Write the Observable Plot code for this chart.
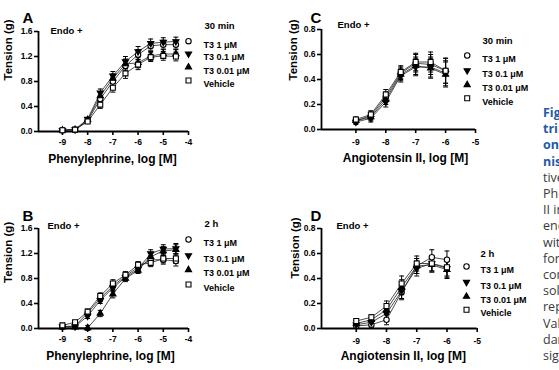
<!DOCTYPE html>
<html>
<head>
<meta charset="utf-8">
<script src="https://cdn.jsdelivr.net/npm/d3@7"></script>
<script src="https://cdn.jsdelivr.net/npm/@observablehq/plot@0.6"></script>
<style>
  body { margin: 0; background: #fff; }
  #fig { position: relative; width: 559px; height: 370px; overflow: hidden; background: #fff; }
  .panel { position: absolute; }
  #caption { position: absolute; left: 543px; top: 105px; font-family: "Open Sans", sans-serif;
             font-size: 12.5px; line-height: 16.2px; white-space: nowrap; color: #3a3a3a; }
  #caption .head { color: #245aa5; font-weight: bold; }
  #caption .body { color: #3a3a3a; font-weight: normal; }
</style>
</head>
<body>
<div id="fig">
  <div id="panelA" class="panel" style="left:0;top:0"></div>
  <div id="panelB" class="panel" style="left:0;top:185px"></div>
  <div id="panelC" class="panel" style="left:280px;top:0"></div>
  <div id="panelD" class="panel" style="left:280px;top:185px"></div>
  <div id="caption">
    <div class="head">Figure 4. Effects of</div>
    <div class="head">triiodothyronine (T3)</div>
    <div class="head">on vascular responses to ago-</div>
    <div class="head">nists. <span class="body">Representa-</span></div>
    <div>tive concentration-response curves to</div>
    <div>Phenylephrine (A, B) and angiotensin</div>
    <div>II in aortic rings with intact</div>
    <div>endothelium (Endo +) incubated</div>
    <div>with T3 (0.01, 0.1 and 1 μM)</div>
    <div>for 30 min (A, C) or 2 h (B, D)</div>
    <div>compared with incubation with</div>
    <div>solvent (Vehicle). Curves</div>
    <div>represent cumulative responses.</div>
    <div>Values are means ± stan-</div>
    <div>dard error of the mean;</div>
    <div>significance was tested by ANOVA.</div>
  </div>
</div>
<script>
// Agonist concentrations, log [M]
const pheLogM = [-9, -8.5, -8, -7.5, -7, -6.5, -6, -5.5, -5, -4.5];
const angLogM = [-9, -8.5, -8, -7.5, -7, -6.5, -6];
const pheTicks = [-9, -8, -7, -6, -5, -4];
const angTicks = [-9, -8, -7, -6, -5];
const pheTensionTicks = [0, 0.4, 0.8, 1.2, 1.6];
const angTensionTicks = [0, 0.2, 0.4, 0.6, 0.8];
const groups = ["T3 1 μM", "T3 0.1 μM", "T3 0.01 μM", "Vehicle"];

// A: phenylephrine, 30 min (tension, g)
const aT3_1   = [0.02, 0.03, 0.17, 0.52, 0.80, 1.05, 1.23, 1.37, 1.39, 1.39];
const aT3_01  = [0.02, 0.03, 0.20, 0.62, 0.89, 1.12, 1.28, 1.41, 1.43, 1.44];
const aT3_001 = [0.02, 0.03, 0.19, 0.57, 0.85, 1.08, 1.10, 1.21, 1.24, 1.24];
const aVeh    = [0.02, 0.03, 0.16, 0.43, 0.70, 0.93, 1.07, 1.19, 1.21, 1.20];
const aSem    = [0.01, 0.01, 0.02, 0.06, 0.07, 0.08, 0.08, 0.07, 0.07, 0.07];

// B: phenylephrine, 2 h
const bT3_1   = [0.03, 0.04, 0.25, 0.48, 0.68, 0.84, 0.98, 1.10, 1.10, 1.08];
const bT3_01  = [0.03, 0.03, 0.20, 0.45, 0.65, 0.82, 0.95, 1.20, 1.27, 1.28];
const bT3_001 = [0.02, 0.02, 0.01, 0.24, 0.55, 0.80, 0.93, 1.15, 1.24, 1.26];
const bVeh    = [0.05, 0.10, 0.27, 0.52, 0.72, 0.86, 1.02, 1.05, 1.12, 1.12];
const bSem    = [0.02, 0.02, 0.04, 0.05, 0.06, 0.05, 0.05, 0.06, 0.07, 0.08];

// C: angiotensin II, 30 min
const cT3_1   = [0.07, 0.11, 0.26, 0.45, 0.53, 0.52, 0.47];
const cT3_01  = [0.06, 0.09, 0.22, 0.43, 0.50, 0.50, 0.45];
const cT3_001 = [0.07, 0.10, 0.24, 0.44, 0.51, 0.49, 0.44];
const cVeh    = [0.08, 0.12, 0.28, 0.46, 0.54, 0.54, 0.47];
const cSem    = [0.02, 0.03, 0.04, 0.05, 0.07, 0.08, 0.10];

// D: angiotensin II, 2 h
const dT3_1   = [0.02, 0.03, 0.07, 0.29, 0.50, 0.57, 0.55];
const dT3_01  = [0.03, 0.05, 0.12, 0.30, 0.48, 0.52, 0.48];
const dT3_001 = [0.04, 0.07, 0.15, 0.33, 0.50, 0.51, 0.47];
const dVeh    = [0.06, 0.09, 0.18, 0.36, 0.52, 0.52, 0.49];
const dSem    = [0.02, 0.02, 0.04, 0.06, 0.06, 0.06, 0.07];

// Marker shapes: open circle, filled down-triangle, filled up-triangle, open square
const triangleDown = {
  draw(ctx, size) {
    const y = -Math.sqrt(size / (Math.sqrt(3) * 3));
    ctx.moveTo(0, -2 * y);
    ctx.lineTo(-Math.sqrt(3) * y, y);
    ctx.lineTo(Math.sqrt(3) * y, y);
    ctx.closePath();
  }
};
const capBar = {
  draw(ctx, size) {
    const w = Math.sqrt(size) / 2;
    ctx.moveTo(-w, 0);
    ctx.lineTo(w, 0);
  }
};
const markers = [
  {symbol: "circle", fill: "white", r: 2.7},
  {symbol: triangleDown, fill: "black", r: 2.3},
  {symbol: "triangle", fill: "black", r: 2.3},
  {symbol: "square", fill: "white", r: 2.8}
];

const FONT = '"Liberation Sans", Arial, sans-serif';

function drawPanel(p) {
  const rows = p.series.flatMap((vals, g) => vals.map((v, i) => ({
    group: groups[g], g, x: p.xs[i], y: v, lo: v - p.sem[i], hi: v + p.sem[i]
  })));
  const L = p.layout;
  const txt = (s, o) => Plot.text([s], {text: d => d, fontWeight: "bold", ...o});

  const marks = [
    Plot.axisX({ticks: p.xTicks, tickSize: 4, tickPadding: L.xPad, tickFormat: d => String(d),
                strokeWidth: 1.6, label: null}),
    Plot.axisY({ticks: p.yTicks, tickSize: 4, tickPadding: 2, tickFormat: d3.format(".1f"),
                strokeWidth: 1.6, label: null}),
    Plot.ruleY([p.yDomain[0]], {strokeWidth: 1.8}),
    Plot.ruleX([p.xDomain[0]], {strokeWidth: 1.8}),
    Plot.line(rows, {x: "x", y: "y", z: "group", stroke: "#222", strokeWidth: 0.8}),
    Plot.ruleX(rows, {x: "x", y1: "lo", y2: "hi", stroke: "black", strokeWidth: 1}),
    Plot.dot(rows, {x: "x", y: "lo", symbol: capBar, r: 2.8, fill: "none", stroke: "black", strokeWidth: 1}),
    Plot.dot(rows, {x: "x", y: "hi", symbol: capBar, r: 2.8, fill: "none", stroke: "black", strokeWidth: 1}),
    ...markers.map((m, g) => Plot.dot(rows.filter(d => d.g === g), {
      x: "x", y: "y", symbol: m.symbol, r: m.r, fill: m.fill, stroke: "black", strokeWidth: 1.1
    })),
    // panel letter and condition
    txt(p.letter, {frameAnchor: "top-left", dx: L.letter[0], dy: L.letter[1], textAnchor: "start", fontSize: 15}),
    txt("Endo +", {frameAnchor: "top-left", dx: L.endo[0], dy: L.endo[1], textAnchor: "start", fontSize: 9.5}),
    // axis titles
    txt(p.xLabel, {frameAnchor: "bottom", dx: L.xLabel[0], dy: L.xLabel[1], fontSize: 12}),
    txt("Tension (g)", {frameAnchor: "left", dx: L.yLabel[0], dy: L.yLabel[1], rotate: -90, fontSize: 11.5}),
    // legend
    txt(p.time, {frameAnchor: "top-right", dx: L.title[0], dy: L.title[1], textAnchor: "start", fontSize: 9.5}),
    ...markers.map((m, g) => Plot.dot([groups[g]], {
      frameAnchor: "top-right", dx: L.sym, dy: L.rows[g], symbol: m.symbol, r: m.r,
      fill: m.fill, stroke: "black", strokeWidth: 1.1
    })),
    ...groups.map((name, g) => txt(name, {frameAnchor: "top-right", dx: L.text, dy: L.rows[g],
                                         textAnchor: "start", fontSize: 9}))
  ];

  const chart = Plot.plot({
    width: p.width, height: 185,
    marginLeft: p.margin[0], marginTop: p.margin[1], marginRight: p.margin[2], marginBottom: p.margin[3],
    x: {domain: p.xDomain, label: null},
    y: {domain: p.yDomain, label: null},
    style: {fontFamily: FONT, fontSize: "8.5px", fontWeight: "bold", color: "black",
            background: "transparent", overflow: "visible"},
    marks
  });
  document.getElementById(p.id).appendChild(chart);
}

const panels = [
  {id: "panelA", letter: "A", time: "30 min", xLabel: "Phenylephrine, log [M]", width: 280,
   xs: pheLogM, series: [aT3_1, aT3_01, aT3_001, aVeh], sem: aSem,
   xDomain: [-9.95, -4], xTicks: pheTicks, yDomain: [0, 1.6], yTicks: pheTensionTicks,
   margin: [38, 31, 92, 54],
   layout: {xPad: 3, letter: [-16, -19], endo: [12, -4], xLabel: [-1, 31], yLabel: [-30, -1],
            title: [16, -9], sym: 0, text: 15, rows: [9.7, 22.3, 35.7, 49]}},
  {id: "panelB", letter: "B", time: "2 h", xLabel: "Phenylephrine, log [M]", width: 280,
   xs: pheLogM, series: [bT3_1, bT3_01, bT3_001, bVeh], sem: bSem,
   xDomain: [-9.95, -4], xTicks: pheTicks, yDomain: [0, 1.6], yTicks: pheTensionTicks,
   margin: [38, 43, 92, 42],
   layout: {xPad: 3, letter: [-16, -18], endo: [9, -6.3], xLabel: [-3, 31], yLabel: [-29.7, 4.4],
            title: [16, -8], sym: 0, text: 15, rows: [11, 27, 41.3, 56]}},
  {id: "panelC", letter: "C", time: "30 min", xLabel: "Angiotensin II, log [M]", width: 279,
   xs: angLogM, series: [cT3_1, cT3_01, cT3_001, cVeh], sem: cSem,
   xDomain: [-10.15, -5], xTicks: angTicks, yDomain: [0, 0.8], yTicks: angTensionTicks,
   margin: [41, 29, 84, 56],
   layout: {xPad: 5, letter: [-11, -17], endo: [16, -8], xLabel: [7, 32.7], yLabel: [-28, 1],
            title: [7, 7.7], sym: -8.3, text: 6.7, rows: [26, 41, 55.3, 68.7]}},
  {id: "panelD", letter: "D", time: "2 h", xLabel: "Angiotensin II, log [M]", width: 279,
   xs: angLogM, series: [dT3_1, dT3_01, dT3_001, dVeh], sem: dSem,
   xDomain: [-10.15, -5], xTicks: angTicks, yDomain: [0, 0.8], yTicks: angTensionTicks,
   margin: [41, 43, 82.3, 42],
   layout: {xPad: 5, letter: [-11, -18], endo: [15, -6], xLabel: [4, 31], yLabel: [-26, 0],
            title: [3.3, 21.3], sym: -10.7, text: 3.3, rows: [38, 53.7, 68, 81.3]}}
];

panels.forEach(drawPanel);
</script>
</body>
</html>
